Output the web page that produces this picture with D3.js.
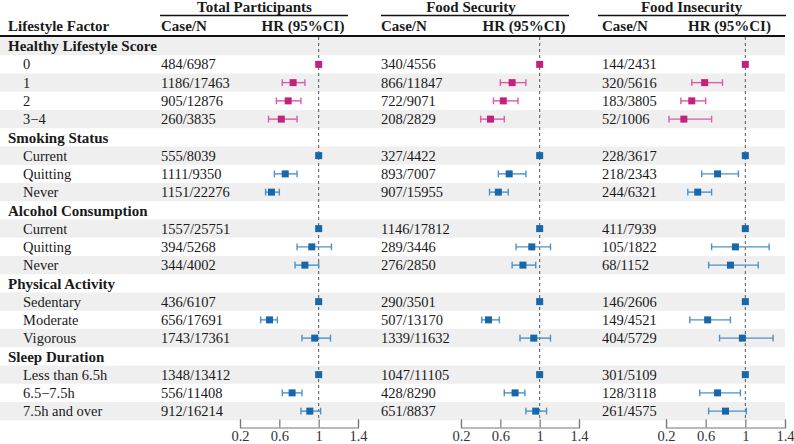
<!DOCTYPE html>
<html>
<head>
<meta charset="UTF-8">
<script src="https://d3js.org/d3.v7.min.js"></script>
<style>
    body { margin: 0; background: #fff; }
</style>
</head>
<body>
<svg id="chart" width="794" height="444"></svg>
<script>
// groups and their levels
var groups = ["Healthy Lifestyle Score", "Smoking Status", "Alcohol Consumption", "Physical Activity", "Sleep Duration"];
var levels = [
    ["0", "1", "2", "3\u22124"],
    ["Current", "Quitting", "Never"],
    ["Current", "Quitting", "Never"],
    ["Sedentary", "Moderate", "Vigorous"],
    ["Less than 6.5h", "6.5\u22127.5h", "7.5h and over"]
];

var panelTitles = ["Total Participants", "Food Security", "Food Insecurity"];

var totalCases = ["484/6987", "1186/17463", "905/12876", "260/3835", "555/8039", "1111/9350", "1151/22276", "1557/25751", "394/5268", "344/4002", "436/6107", "656/17691", "1743/17361", "1348/13412", "556/11408", "912/16214"];
var totalHR = [1, 0.74, 0.69, 0.62, 1, 0.66, 0.52, 1, 0.93, 0.86, 1, 0.50, 0.96, 1, 0.73, 0.91];
var totalLo = [null, 0.63, 0.57, 0.49, null, 0.55, 0.46, null, 0.78, 0.76, null, 0.41, 0.83, null, 0.63, 0.82];
var totalHi = [null, 0.86, 0.82, 0.78, null, 0.78, 0.60, null, 1.13, 1.00, null, 0.58, 1.12, null, 0.83, 1.02];

var secureCases = ["340/4556", "866/11847", "722/9071", "208/2829", "327/4422", "893/7007", "907/15955", "1146/17812", "289/3446", "276/2850", "290/3501", "507/13170", "1339/11632", "1047/11105", "428/8290", "651/8837"];
var secureHR = [1, 0.72, 0.63, 0.50, 1, 0.69, 0.58, 1, 0.92, 0.83, 1, 0.48, 0.94, 1, 0.75, 0.96];
var secureLo = [null, 0.60, 0.53, 0.40, null, 0.58, 0.49, null, 0.76, 0.72, null, 0.41, 0.80, null, 0.64, 0.86];
var secureHi = [null, 0.86, 0.78, 0.64, null, 0.86, 0.68, null, 1.11, 0.96, null, 0.59, 1.11, null, 0.85, 1.07];

var insecureCases = ["144/2431", "320/5616", "183/3805", "52/1006", "228/3617", "218/2343", "244/6321", "411/7939", "105/1822", "68/1152", "146/2606", "149/4521", "404/5729", "301/5109", "128/3118", "261/4575"];
var insecureHR = [1, 0.59, 0.46, 0.38, 1, 0.72, 0.52, 1, 0.90, 0.85, 1, 0.62, 0.97, 1, 0.72, 0.80];
var insecureLo = [null, 0.46, 0.35, 0.23, null, 0.56, 0.42, null, 0.66, 0.63, null, 0.44, 0.74, null, 0.54, 0.63];
var insecureHi = [null, 0.77, 0.60, 0.66, null, 0.93, 0.66, null, 1.24, 1.13, null, 0.85, 1.28, null, 0.95, 1.01];

var tickValues = [0.2, 0.6, 1, 1.4];

var panels = [
    { cases: totalCases, hr: totalHR, lo: totalLo, hi: totalHi, caseX: 161, titleX: 254.5, range: [240, 358], line: [160, 348] },
    { cases: secureCases, hr: secureHR, lo: secureLo, hi: secureHi, caseX: 381, titleX: 471, range: [461, 579], line: [381, 569] },
    { cases: insecureCases, hr: insecureHR, lo: insecureLo, hi: insecureHi, caseX: 602, titleX: 691.5, range: [666, 785], line: [598, 786] }
];

var FONT = "'Liberation Serif', 'Times New Roman', serif";

// flatten into rows
var rows = [];
var k = 0;
groups.forEach(function (g, gi) {
    rows.push({ label: g, header: true, group: gi });
    levels[gi].forEach(function (l) {
        rows.push({ label: l, header: false, group: gi, idx: k });
        k++;
    });
});

var svg = d3.select("#chart");
var y = d3.scaleBand().domain(d3.range(rows.length)).range([37, 420.25]);

function txt(sel, bold) {
    return sel.style("font-family", FONT)
        .style("font-size", bold ? "15px" : "14.5px")
        .style("font-weight", bold ? "bold" : "normal")
        .style("fill", "#1a1a1a");
}

// zebra bands
svg.selectAll("rect.band")
    .data(rows.filter(function (d, i) { return i % 2 === 0; }))
    .enter()
    .append("rect")
    .attr("class", "band")
    .attr("x", 0)
    .attr("width", 785)
    .attr("y", function (d) { return y(rows.indexOf(d)); })
    .attr("height", y.bandwidth())
    .attr("fill", "#efefef");

// header
txt(svg.append("text").attr("x", 8).attr("y", 31).text("Lifestyle Factor"), true);
svg.append("line").attr("x1", 0).attr("x2", 785).attr("y1", 36).attr("y2", 36)
    .attr("stroke", "#111").attr("stroke-width", 2);

// row labels
svg.selectAll("text.label")
    .data(rows)
    .enter()
    .append("text")
    .attr("class", "label")
    .attr("x", function (d) { return d.header ? 8 : 23; })
    .attr("y", function (d, i) { return y(i) + y.bandwidth() / 2; })
    .attr("dy", "0.35em")
    .text(function (d) { return d.label; })
    .each(function (d) { txt(d3.select(this), d.header); });

var magenta = { box: "#c4217f", line: "#dc5aa6" };
var blue = { box: "#1767ab", line: "#4b92c9" };

panels.forEach(function (p, pi) {
    var x = d3.scaleLinear().domain([0.2, 1.4]).range(p.range);

    txt(svg.append("text").attr("x", p.titleX).attr("y", 11.5)
        .attr("text-anchor", "middle").text(panelTitles[pi]), true);
    svg.append("line").attr("x1", p.line[0]).attr("x2", p.line[1]).attr("y1", 15.5).attr("y2", 15.5)
        .attr("stroke", "#111").attr("stroke-width", 1.6);
    txt(svg.append("text").attr("x", p.caseX).attr("y", 31).text("Case/N"), true);
    txt(svg.append("text").attr("x", (p.range[0] + p.range[1]) / 2 + 4).attr("y", 31)
        .attr("text-anchor", "middle").text("HR (95%CI)"), true);

    // reference line at HR = 1
    svg.append("line")
        .attr("x1", x(1)).attr("x2", x(1))
        .attr("y1", 37).attr("y2", 420)
        .attr("stroke", "#555").attr("stroke-width", 1)
        .attr("stroke-dasharray", "3,3");

    var items = rows.filter(function (d) { return !d.header; });

    svg.selectAll("text.case" + pi)
        .data(items)
        .enter()
        .append("text")
        .attr("class", "case" + pi)
        .attr("x", p.caseX)
        .attr("y", function (d) { return y(rows.indexOf(d)) + y.bandwidth() / 2; })
        .attr("dy", "0.35em")
        .text(function (d) { return p.cases[d.idx]; })
        .call(txt, false);

    var g = svg.append("g");
    items.forEach(function (d) {
        var cy = y(rows.indexOf(d)) + y.bandwidth() / 2;
        var col = d.group === 0 ? magenta : blue;
        var lo = p.lo[d.idx], hi = p.hi[d.idx];
        if (lo !== null) {
            g.append("line").attr("x1", x(lo)).attr("x2", x(hi)).attr("y1", cy).attr("y2", cy)
                .attr("stroke", col.line).attr("stroke-width", 1.4);
            [lo, hi].forEach(function (v) {
                g.append("line").attr("x1", x(v)).attr("x2", x(v)).attr("y1", cy - 3.4).attr("y2", cy + 3.4)
                    .attr("stroke", col.line).attr("stroke-width", 1.4);
            });
        }
        g.append("rect")
            .attr("x", x(p.hr[d.idx]) - 3.5).attr("y", cy - 3.5)
            .attr("width", 7).attr("height", 7)
            .attr("fill", col.box);
    });

    var ax = svg.append("g")
        .attr("transform", "translate(0,427.5)")
        .call(d3.axisBottom(x).tickValues(tickValues).tickSize(-8).tickPadding(3)
            .tickFormat(d3.format("~g")));
    ax.selectAll("path, line").attr("stroke", "#777").attr("stroke-width", 1.2);
    ax.selectAll("text").call(txt, false).style("fill", "#333");
});
</script>
</body>
</html>
